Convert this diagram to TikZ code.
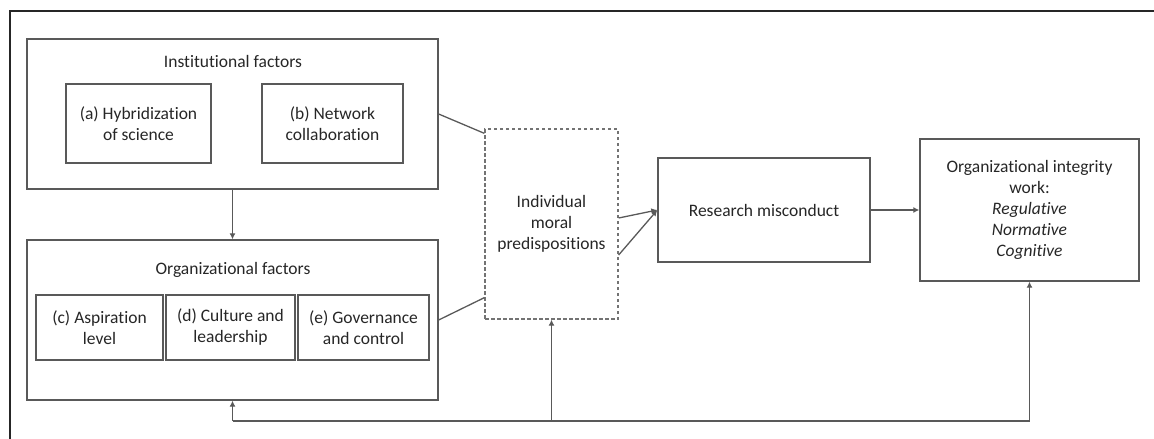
\documentclass[tikz,border=0pt]{standalone}
\usepackage{fontspec}
\setmainfont{Carlito}[Ligatures=NoCommon]
\usetikzlibrary{arrows.meta}
\begin{document}
\begin{tikzpicture}[x=1pt,y=-1pt,
  box/.style={draw=black!65, line width=1.3pt, rectangle, inner sep=2pt, align=center, text=black!85,
    font=\fontsize{17.5}{21}\selectfont},
  lbl/.style={inner sep=0pt, text=black!85, font=\fontsize{17.5}{21}\selectfont},
  conn/.style={draw=black!65, line width=1.3pt},
  arr/.style={conn, -{Latex[length=6pt,width=6pt]}}
]
\useasboundingbox (0,0) rectangle (1154,439);
% outer frame (top and left edges)
\draw[line width=1.5pt, black!85] (10,439) -- (10,11) -- (1154,11);

% institutional
\node[box, minimum width=411pt, minimum height=150pt] (inst) at (232.5,114) {};
\node[lbl] (insttitle) at (233,61) {Institutional factors};
\node[box, minimum width=145pt, minimum height=79pt] (a) at (138.5,123.5) {(a) Hybridization\\of science};
\node[box, minimum width=141pt, minimum height=79pt] (b) at (332.5,123.5) {(b) Network\\collaboration};

% organizational
\node[box, minimum width=411pt, minimum height=160pt] (org) at (232.5,320) {};
\node[lbl] (orgtitle) at (233,270) {Organizational factors};
\node[box, minimum width=127pt, minimum height=65pt] (c) at (99.5,327.5) {(c) Aspiration\\level};
\node[box, minimum width=129pt, minimum height=65pt] (d) at (230.5,327.5) {(d) Culture and\\leadership};
\node[box, minimum width=131pt, minimum height=65pt] (e) at (363.5,327.5) {(e) Governance\\and control};

% individual
\node[box, draw=black!55, dash pattern=on 3.5pt off 2.5pt, minimum width=133pt, minimum height=190pt] (imp) at (551.5,224) {Individual\\moral\\predispositions};

% research misconduct
\node[box, minimum width=212pt, minimum height=104pt] (rm) at (764,210) {Research misconduct};

% integrity work
\node[box, minimum width=219pt, minimum height=142pt] (oiw) at (1029.5,210) {Organizational integrity\\work:\\\textit{Regulative}\\\textit{Normative}\\\textit{Cognitive}};

% connectors
\draw[arr] (inst.south) -- (org.north);
\coordinate (impA) at ([yshift=-5pt]imp.north west);
\coordinate (impB) at ([yshift=22pt]imp.south west);
\draw[conn] (inst.east) -- (impA);
\draw[conn] (org.east) -- (impB);
\coordinate (impC) at ([yshift=-31pt]imp.east);
\coordinate (impD) at ([yshift=6pt]imp.east);
\draw[arr] (impC) -- (rm.west);
\draw[arr] (impD) -- (rm.west);
\draw[arr] (rm.east) -- (oiw.west);

% feedback loop
\coordinate (fbL) at (232.5,421);
\coordinate (fbM) at (551.5,421);
\coordinate (fbR) at (1029.5,421);
\draw[conn] (fbL) -- (fbR);
\draw[arr] (fbL) -- (org.south);
\draw[arr] (fbM) -- (imp.south);
\draw[arr] (fbR) -- (oiw.south);
\end{tikzpicture}
\end{document}
